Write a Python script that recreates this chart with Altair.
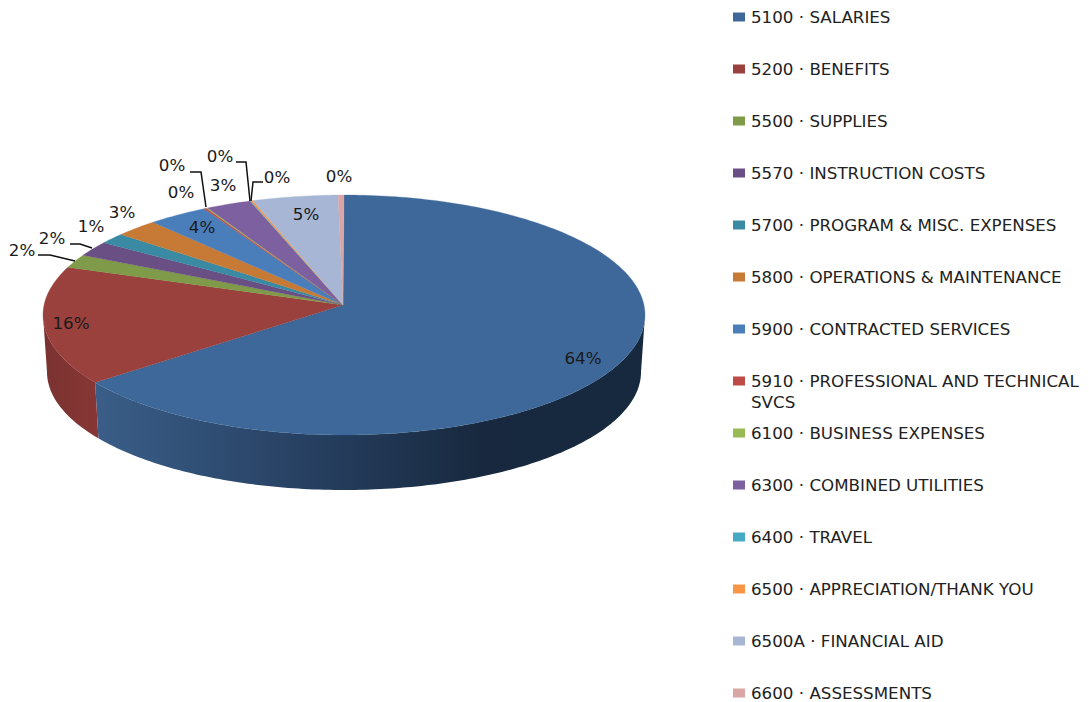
import math
import altair as alt
import pandas as pd

# ---- data ----
accounts = ["5100 · SALARIES", "5200 · BENEFITS", "5500 · SUPPLIES", "5570 · INSTRUCTION COSTS",
            "5700 · PROGRAM & MISC. EXPENSES", "5800 · OPERATIONS & MAINTENANCE",
            "5900 · CONTRACTED SERVICES", "5910 · PROFESSIONAL AND TECHNICAL", "6100 · BUSINESS EXPENSES",
            "6300 · COMBINED UTILITIES", "6400 · TRAVEL", "6500 · APPRECIATION/THANK YOU",
            "6500A · FINANCIAL AID", "6600 · ASSESSMENTS"]
# share of the drawn ellipse taken by each slice (perspective included), percent
shares = [65.5, 16.03, 1.78, 2.0, 1.42, 2.33, 3.25, 0.14, 0.08, 2.42, 0.05, 0.12, 4.58, 0.31]
colors = ["#3E6899", "#9A403D", "#7F9A48", "#6A4F85", "#3A8AA3", "#C67A35", "#4A7EBB",
          "#BE4B48", "#98B954", "#7D60A0", "#46AAC5", "#F79646", "#A7B6D5", "#D9A6A5"]
label_text = ["64%", "16%", "2%", "2%", "1%", "3%", "4%", "0%", "0%", "3%", "0%", "0%", "5%", "0%"]

# ---- layout, in page pixels ----
OFF = 8
W, H = 1073, 694
label_x = [583, 71, 22, 52, 91, 122, 202, 181, 172, 223, 220, 277, 306, 339]
label_y = [359, 324, 251, 239, 227, 213, 228, 193, 166, 186, 157, 178, 215, 177]
leaders = [
    [(38, 255), (50, 255), (75, 261)],
    [(70, 244), (80, 244), (92, 248)],
    [(190, 172), (201, 172), (206, 207)],
    [(236, 162), (246, 162), (250, 201)],
    [(263, 182), (253, 182), (251, 201)],
]
APEX = (343, 305)
TOP = dict(cx=344, cy=315, a=301, b=120)
BOTTOM = dict(cx=344, cy=372, a=297, b=118)
FONT = "DejaVu Sans"
FS = 16.7


def pt(e, deg):
    t = math.radians(deg)
    return [e["cx"] + e["a"] * math.sin(t) - OFF, e["cy"] - e["b"] * math.cos(t) - OFF]


def arc(e, a0, a1):
    n = max(2, int(abs(a1 - a0)) + 2)
    return [pt(e, a0 + (a1 - a0) * i / (n - 1)) for i in range(n)]


def feature(ring, name, color):
    return {"type": "Feature", "properties": {"name": name, "color": color},
            "geometry": {"type": "Polygon", "coordinates": [ring + [ring[0]]]}}


edges = [0.0]
for s in shares:
    edges.append(edges[-1] + s * 360 / sum(shares))

apex = [APEX[0] - OFF, APEX[1] - OFF]
faces = [feature([apex] + arc(TOP, edges[i], edges[i + 1]), accounts[i], colors[i])
         for i in range(len(shares))]


def side(a0, a1):
    return [feature(arc(TOP, a0, a1) + arc(BOTTOM, a1, a0), "side", "#000")]


proj = dict(type="identity", scale=1, translate=[0, 0], reflectY=False)

side_blue = alt.Chart(alt.Data(values=side(90, edges[1]))).mark_geoshape(
    strokeWidth=0,
    fill=alt.Gradient(gradient="linear", x1=1, x2=0, y1=0, y2=0, stops=[
        alt.GradientStop(offset=0, color="#17293F"),
        alt.GradientStop(offset=0.30, color="#18293F"),
        alt.GradientStop(offset=0.6, color="#263F60"),
        alt.GradientStop(offset=1, color="#3A5E88"),
    ])).project(**proj)
side_red = alt.Chart(alt.Data(values=side(edges[1], 270))).mark_geoshape(
    strokeWidth=0,
    fill=alt.Gradient(gradient="linear", x1=0, x2=1, y1=0, y2=0, stops=[
        alt.GradientStop(offset=0, color="#7A3230"),
        alt.GradientStop(offset=1, color="#873735"),
    ])).project(**proj)
top = alt.Chart(alt.Data(values=faces)).mark_geoshape(strokeWidth=0.3).encode(
    fill=alt.Fill("properties.color:N", scale=None),
    stroke=alt.Stroke("properties.color:N", scale=None),
).project(**proj)

xs = alt.Scale(domain=[0, W], range=[0, W])
ys = alt.Scale(domain=[0, H], range=[0, H])
X = lambda f: alt.X(f, type="quantitative", scale=xs, axis=None)
Y = lambda f: alt.Y(f, type="quantitative", scale=ys, axis=None)

lead_df = pd.DataFrame([{"id": i, "o": j, "x": p[0] - OFF, "y": p[1] - OFF}
                        for i, line in enumerate(leaders) for j, p in enumerate(line)])
lead = alt.Chart(lead_df).mark_line(color="#111111", strokeWidth=1.5).encode(
    x=X("x"), y=Y("y"), detail="id:N", order="o:Q")

lab_df = pd.DataFrame({"t": label_text, "x": [v - OFF for v in label_x], "y": [v - OFF for v in label_y]})
labels = alt.Chart(lab_df).mark_text(font=FONT, fontSize=FS, color="#1a1a1a", align="center",
                                     baseline="middle").encode(x=X("x"), y=Y("y"), text="t:N")

leg_df = pd.DataFrame({
    "name": accounts, "color": colors,
    "y": [17 + 52 * i - OFF for i in range(len(accounts))],
    "x0": [733 - OFF] * len(accounts), "x1": [745 - OFF] * len(accounts), "xt": [751 - OFF] * len(accounts),
})
leg_df["y0"] = leg_df["y"] - 4.5
leg_df["y1"] = leg_df["y"] + 4.5
leg_df["yt"] = leg_df["y"] + 1
swatch = alt.Chart(leg_df).mark_rect(strokeWidth=0).encode(
    x=X("x0"), x2="x1", y=Y("y0"), y2="y1", fill=alt.Fill("color:N", scale=None))
legtext = alt.Chart(leg_df).mark_text(font=FONT, fontSize=FS, color="#222222", align="left",
                                      baseline="middle").encode(x=X("xt"), y=Y("yt"), text="name:N")
wrap_df = pd.DataFrame({"t": ["SVCS"], "x": [751 - OFF], "y": [403 - OFF]})
wrap = alt.Chart(wrap_df).mark_text(font=FONT, fontSize=FS, color="#222222", align="left",
                                    baseline="middle").encode(x=X("x"), y=Y("y"), text="t:N")

chart = alt.layer(side_blue, side_red, top, lead, labels, swatch, legtext, wrap).properties(
    width=W, height=H, padding=0, autosize=alt.AutoSizeParams(type="none")
).configure_view(stroke=None)

chart.save("out.html", embed_options={"renderer": "svg", "actions": False})
